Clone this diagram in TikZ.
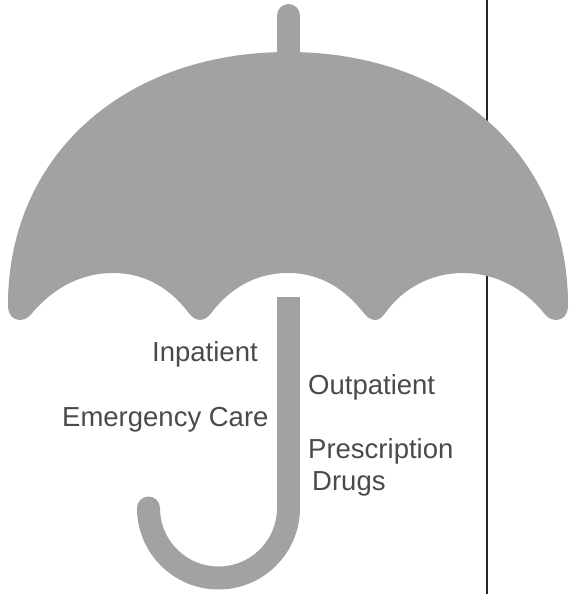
\documentclass[tikz,border=0pt]{standalone}
\usepackage{fontspec}
\setmainfont{Liberation Sans}
\definecolor{canopygray}{HTML}{A2A2A2}
\definecolor{labelgray}{HTML}{4A4A4A}

\begin{document}
\begin{tikzpicture}[
    x=1pt, y=-1pt,
    canopy/.style={fill=canopygray, draw=none},
    rod/.style={draw=canopygray, line width=23pt},
    divider/.style={draw=black!85, line width=1.6pt},
    label/.style={anchor=base west, inner sep=0pt, text=labelgray, font=\fontsize{27.5}{32}\selectfont}
]
\useasboundingbox (0,0) rectangle (568,594);
% vertical rule behind the canopy
\coordinate (ruletop) at (487,0);
\coordinate (rulebot) at (487,594);
\draw[divider] (ruletop) -- (rulebot);
% top spike
\draw[rod, line cap=round] (288.5,15.5) -- (288.5,70);
% canopy
\path[canopy] (8,305)
    .. controls (8,155) and (125,52) .. (288,52)
    .. controls (451,52) and (568,155) .. (568,305)
    .. controls (568,315) and (563,320) .. (556,320)
    .. controls (550,320) and (546,316) .. (543,312)
    .. controls (525,290) and (497,273) .. (463,273)
    .. controls (429,273) and (402,290) .. (386,312)
    .. controls (383,316) and (380,320) .. (375,320)
    .. controls (370,320) and (366,316) .. (363,312)
    .. controls (345,290) and (322,273) .. (288,273)
    .. controls (254,273) and (229,290) .. (212,312)
    .. controls (209,316) and (205,320) .. (200,320)
    .. controls (195,320) and (191,316) .. (188,312)
    .. controls (171,290) and (147,273) .. (113,273)
    .. controls (79,273) and (52,290) .. (33,312)
    .. controls (30,316) and (26,320) .. (20,320)
    .. controls (13,320) and (8,315) .. (8,305) -- cycle;
% handle
\draw[rod] (288.5,297) -- (288.5,508);
\draw[rod, line cap=round] (288.5,508) arc[start angle=0, end angle=180, radius=70];
% texts
\node[label] (inpatient) at (152,361) {Inpatient};
\node[label] (outpatient) at (308,394) {Outpatient};
\node[label] (emergency) at (62,426) {Emergency Care};
\node[label] (prescription) at (308,458) {Prescription};
\node[label] (drugs) at (312,490) {Drugs};
\end{tikzpicture}
\end{document}
